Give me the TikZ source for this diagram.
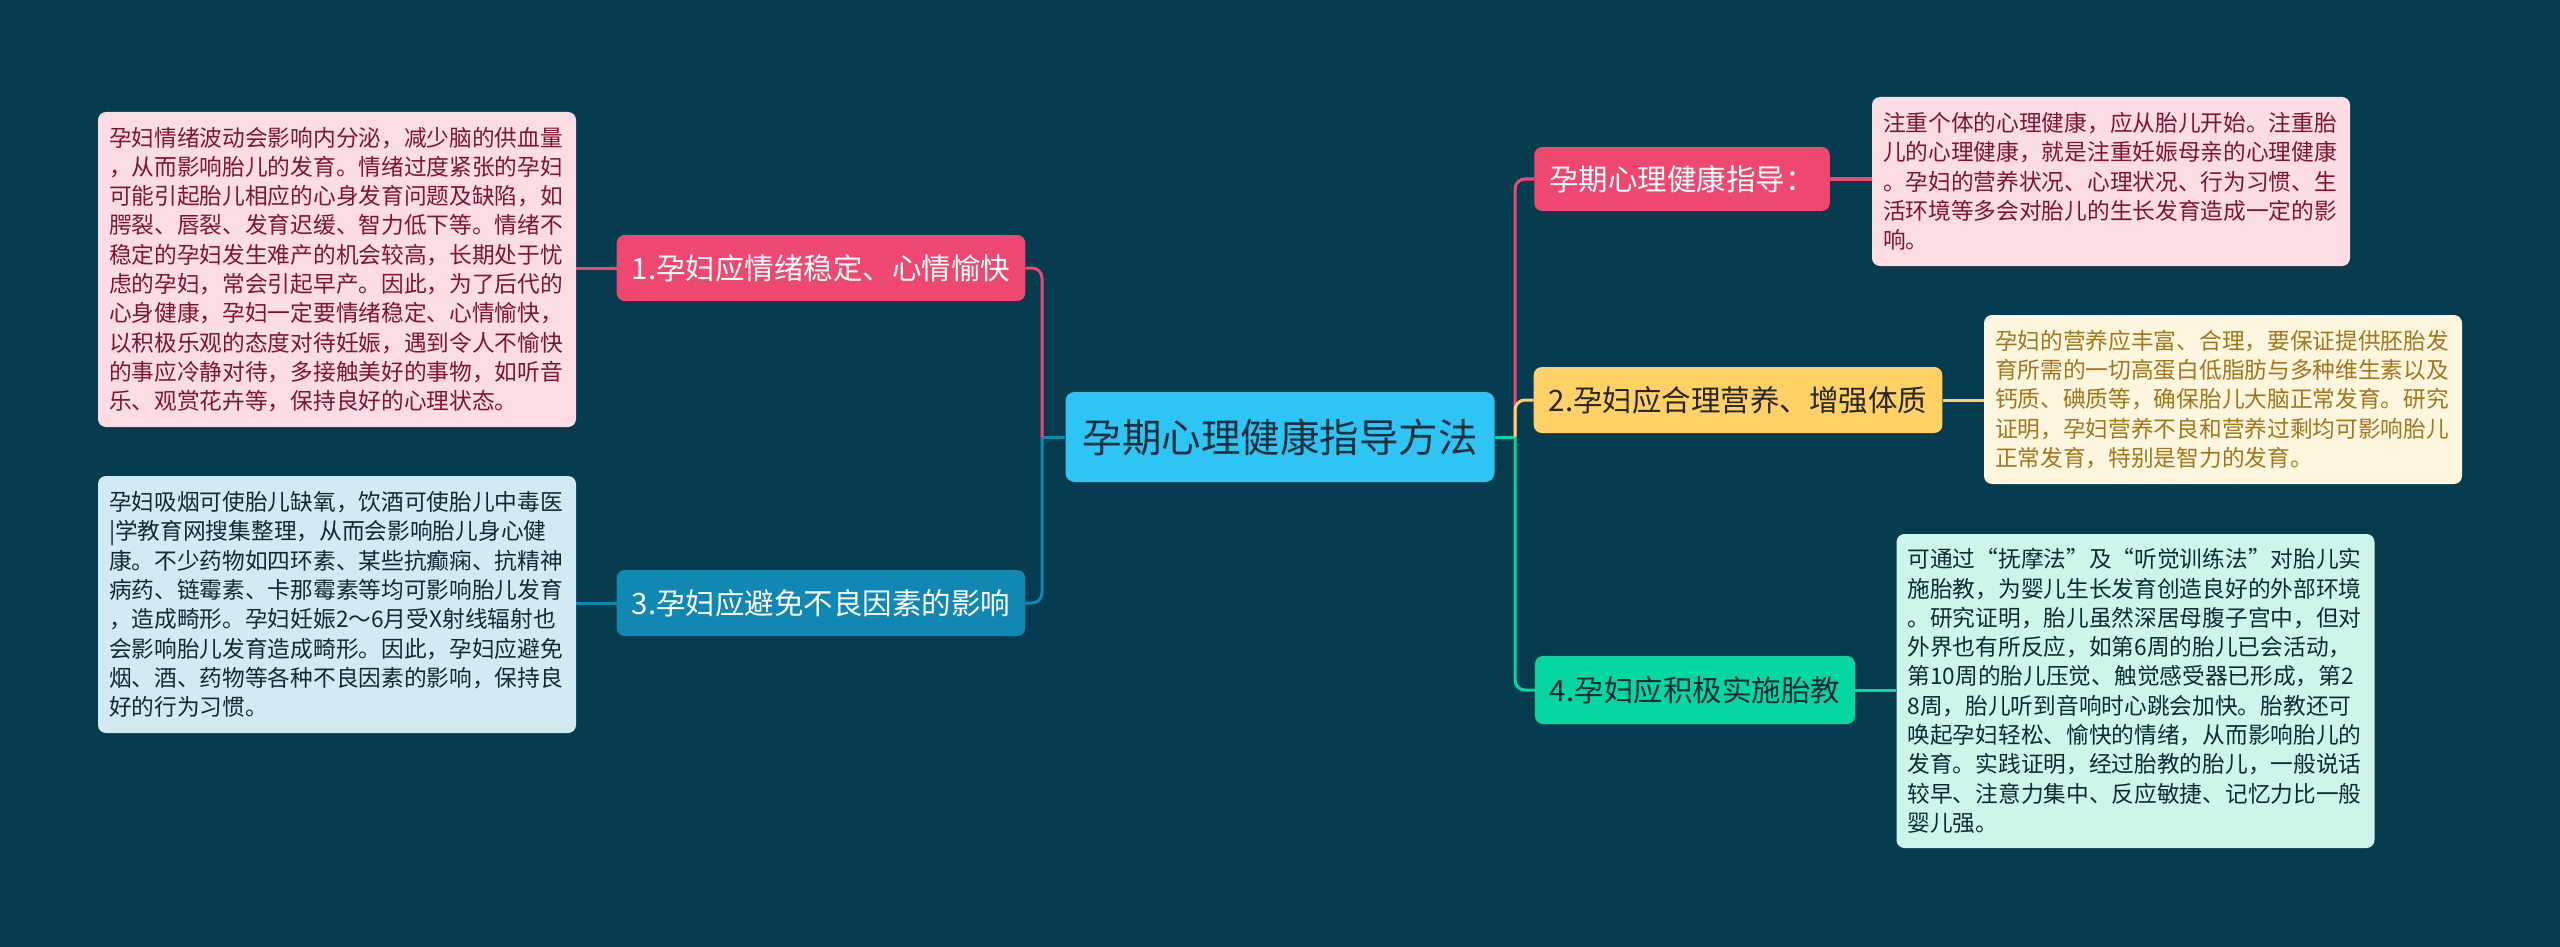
\documentclass[tikz,border=0pt]{standalone}
\usepackage{fontspec}
\setmainfont{Noto Sans CJK SC}
\newcommand\fwq[1]{{\addfontfeatures{RawFeature=+fwid}#1}}
\definecolor{bgc}{HTML}{073B4F}
\definecolor{centc}{HTML}{2EC4F4}
\definecolor{pinkc}{HTML}{EE4870}
\definecolor{bluec}{HTML}{1187B3}
\definecolor{yelc}{HTML}{FFD166}
\definecolor{grnc}{HTML}{06D6A0}
\definecolor{pinkl}{HTML}{FCDDE3}
\definecolor{bluel}{HTML}{D3EAF2}
\definecolor{yell}{HTML}{FFF6DF}
\definecolor{grnl}{HTML}{CDF6EB}
\definecolor{pinkt}{HTML}{7E1530}
\definecolor{yelt}{HTML}{A2761A}
\definecolor{darkt}{HTML}{0E2A36}
\definecolor{centt}{HTML}{1C2F3C}
\begin{document}
\begin{tikzpicture}[x=1pt,y=-1pt,
  branch/.style={rounded corners=8pt, minimum height=66pt, inner xsep=15pt, inner ysep=0pt, font=\fontsize{29.5}{35}\selectfont},
  note/.style={rounded corners=8pt, align=left, text width=456pt, inner xsep=11pt, inner ysep=0pt, font=\fontsize{22.7}{29.3}\selectfont},
  link/.style={line width=3pt, rounded corners=10pt}]
\useasboundingbox (0,0) rectangle (2560,947);
\fill[bgc] (0,0) rectangle (2560,947);

% central
\node[rounded corners=9pt, fill=centc, text=centt, minimum width=429pt, minimum height=90pt, inner sep=0pt, font=\fontsize{39.5}{46}\selectfont] (c) at (1280,437) {孕期心理健康指导方法};

% left branches
\node[branch, fill=pinkc, text=white, minimum width=405pt] (n1) at (821,268) {1.孕妇应情绪稳定、心情愉快};
\node[branch, fill=bluec, text=white, minimum width=405pt] (n3) at (821,603) {3.孕妇应避免不良因素的影响};

% right branches
\node[branch, fill=pinkc, text=white, minimum width=293pt, minimum height=64pt] (r1) at (1682,179) {孕期心理健康指导：};
\node[branch, fill=yelc, text=black!85, minimum width=405pt] (r2) at (1738,400) {2.孕妇应合理营养、增强体质};
\node[branch, fill=grnc, text=darkt, minimum width=319pt, minimum height=68pt] (r4) at (1695,690) {4.孕妇应积极实施胎教};

% notes
\node[note, fill=pinkl, text=pinkt, minimum width=478pt, minimum height=315pt] (t1) at (337,269.5) {孕妇情绪波动会影响内分泌，减少脑的供血量\\%
，从而影响胎儿的发育。情绪过度紧张的孕妇\\%
可能引起胎儿相应的心身发育问题及缺陷，如\\%
腭裂、唇裂、发育迟缓、智力低下等。情绪不\\%
稳定的孕妇发生难产的机会较高，长期处于忧\\%
虑的孕妇，常会引起早产。因此，为了后代的\\%
心身健康，孕妇一定要情绪稳定、心情愉快，\\%
以积极乐观的态度对待妊娠，遇到令人不愉快\\%
的事应冷静对待，多接触美好的事物，如听音\\%
乐、观赏花卉等，保持良好的心理状态。};

\node[note, fill=bluel, text=darkt, minimum width=478pt, minimum height=257pt] (t3) at (337,604.5) {孕妇吸烟可使胎儿缺氧，饮酒可使胎儿中毒医\\%
|学教育网搜集整理，从而会影响胎儿身心健\\%
康。不少药物如四环素、某些抗癫痫、抗精神\\%
病药、链霉素、卡那霉素等均可影响胎儿发育\\%
，造成畸形。孕妇妊娠2～6月受X射线辐射也\\%
会影响胎儿发育造成畸形。因此，孕妇应避免\\%
烟、酒、药物等各种不良因素的影响，保持良\\%
好的行为习惯。};

\node[note, fill=pinkl, text=pinkt, minimum width=478pt, minimum height=169pt] (s1) at (2111,181.5) {注重个体的心理健康，应从胎儿开始。注重胎\\%
儿的心理健康，就是注重妊娠母亲的心理健康\\%
。孕妇的营养状况、心理状况、行为习惯、生\\%
活环境等多会对胎儿的生长发育造成一定的影\\%
响。};

\node[note, fill=yell, text=yelt, minimum width=478pt, minimum height=169pt] (s2) at (2223,399.5) {孕妇的营养应丰富、合理，要保证提供胚胎发\\%
育所需的一切高蛋白低脂肪与多种维生素以及\\%
钙质、碘质等，确保胎儿大脑正常发育。研究\\%
证明，孕妇营养不良和营养过剩均可影响胎儿\\%
正常发育，特别是智力的发育。};

\node[note, fill=grnl, text=darkt, minimum width=477pt, minimum height=314pt] (s4) at (2135.5,691) {可通过\fwq{“}抚摩法\fwq{”}及\fwq{“}听觉训练法\fwq{”}对胎儿实\\%
施胎教，为婴儿生长发育创造良好的外部环境\\%
。研究证明，胎儿虽然深居母腹子宫中，但对\\%
外界也有所反应，如第6周的胎儿已会活动，\\%
第10周的胎儿压觉、触觉感受器已形成，第2\\%
8周，胎儿听到音响时心跳会加快。胎教还可\\%
唤起孕妇轻松、愉快的情绪，从而影响胎儿的\\%
发育。实践证明，经过胎教的胎儿，一般说话\\%
较早、注意力集中、反应敏捷、记忆力比一般\\%
婴儿强。};

% trunks
\coordinate (lt) at (1042,437);
\coordinate (rt) at (1515,437);

\draw[link, bluec] (c.west) -- (lt);
\draw[link, pinkc] (lt) |- (n1.east);
\draw[link, bluec] (lt) |- (n3.east);

\draw[link, grnc] (c.east) -- (rt);
\draw[link, pinkc] (rt) |- (r1.west);
\draw[link, yelc] (rt) |- (r2.west);
\draw[link, grnc] (rt) |- (r4.west);

% note links
\draw[link, pinkc] (n1.west) -- (n1.west -| t1.east);
\draw[link, bluec] (n3.west) -- (n3.west -| t3.east);
\draw[link, pinkc] (r1.east) -- (r1.east -| s1.west);
\draw[link, yelc] (r2.east) -- (r2.east -| s2.west);
\draw[link, grnc] (r4.east) -- (r4.east -| s4.west);
\end{tikzpicture}
\end{document}
